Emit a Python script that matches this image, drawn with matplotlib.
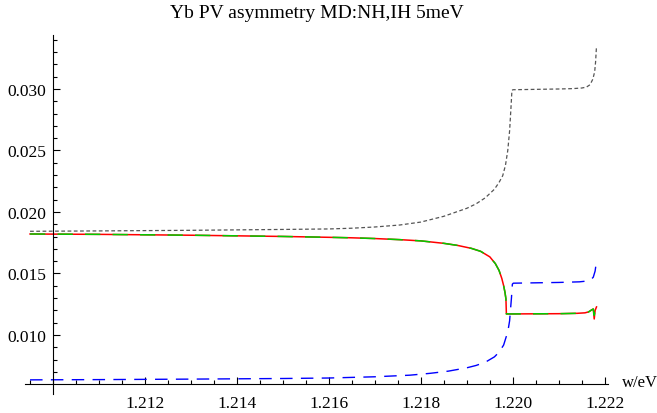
import matplotlib
matplotlib.use("Agg")
import matplotlib.pyplot as plt
import numpy as np

# ---- data ----
w_gray = [1.2095, 1.2110, 1.2130, 1.2150, 1.2160, 1.2165, 1.2170, 1.21754, 1.2180,
          1.2185, 1.2190, 1.2192, 1.2194, 1.2196, 1.2197, 1.21978, 1.21984, 1.21989,
          1.21993, 1.21996, 1.21998, 1.22000, 1.22050, 1.22100, 1.22130, 1.22150,
          1.22160, 1.22168, 1.22174, 1.22178, 1.22180, 1.22182]
a_gray = [0.01843, 0.01846, 0.01851, 0.01858, 0.01862, 0.01868, 0.01878, 0.01894, 0.01918,
          0.01965, 0.02030, 0.02066, 0.02115, 0.02185, 0.02240, 0.02295, 0.02380, 0.02500,
          0.02660, 0.02850, 0.02986, 0.02994, 0.02997, 0.03000, 0.03003, 0.03008,
          0.03015, 0.03035, 0.03080, 0.03140, 0.03220, 0.03350]

w_blue = [1.2095, 1.2110, 1.2130, 1.2150, 1.2160, 1.2170, 1.21776, 1.2182, 1.2186,
          1.2190, 1.2192, 1.2194, 1.2196, 1.2197, 1.2198, 1.21986, 1.21990, 1.21993,
          1.21995, 1.21997, 1.21999, 1.22001, 1.22050, 1.22100, 1.22145, 1.22160,
          1.22170, 1.22175, 1.22179, 1.22182]
a_blue = [0.00635, 0.00637, 0.00641, 0.00646, 0.00650, 0.00660, 0.00673, 0.00688, 0.00706,
          0.00733, 0.00752, 0.00778, 0.00822, 0.00860, 0.00918, 0.00990, 0.01047, 0.01115,
          0.01210, 0.01300, 0.01413, 0.01421, 0.01424, 0.01427, 0.01432, 0.01438,
          0.01450, 0.01470, 0.01520, 0.01602]

w_red = [1.2095, 1.2110, 1.2130, 1.2150, 1.2160, 1.2165, 1.2170, 1.21754, 1.2180,
         1.2185, 1.2188, 1.2191, 1.2193, 1.2195, 1.21962, 1.21970, 1.21976, 1.21980,
         1.21983, 1.21985, 1.21986, 1.22000, 1.22100, 1.22140, 1.22157, 1.22165,
         1.22172, 1.22175, 1.22177, 1.22179, 1.22182]
a_red = [0.01821, 0.01818, 0.01811, 0.01801, 0.01794, 0.01790, 0.01784, 0.01775, 0.01765,
         0.01745, 0.01728, 0.01704, 0.01680, 0.01635, 0.01580, 0.01525, 0.01460, 0.01401,
         0.01345, 0.01293, 0.01171, 0.01171, 0.01173, 0.01176, 0.01180, 0.01188,
         0.01205, 0.01211, 0.01130, 0.01200, 0.01228]

w_green = w_red
a_green = [0.01821, 0.01818, 0.01811, 0.01801, 0.01794, 0.01790, 0.01784, 0.01775, 0.01765,
           0.01745, 0.01728, 0.01704, 0.01680, 0.01635, 0.01580, 0.01525, 0.01460, 0.01401,
           0.01345, 0.01293, 0.01171, 0.01171, 0.01173, 0.01176, 0.01180, 0.01188,
           0.01205, 0.01211, 0.01160, 0.01200, 0.01228]

x_major = [1.212, 1.214, 1.216, 1.218, 1.220, 1.222]
y_major = [0.010, 0.015, 0.020, 0.025, 0.030]
title = "Yb PV asymmetry MD:NH,IH 5meV"
xlabel = "w/eV"

plt.rcParams['font.family'] = ['Liberation Serif', 'DejaVu Serif']

fig = plt.figure(figsize=(6.57, 4.14), dpi=100)
W, H = 657.0, 414.0
left_px, right_px, top_px, bot_px = 25, 608, 36, 395
ax = fig.add_axes([left_px / W, 1 - bot_px / H, (right_px - left_px) / W, (bot_px - top_px) / H])
ax.set_xlim(1.20939, 1.22207)
ax.set_ylim(0.00520, 0.03439)

ax.plot(w_gray, a_gray, color='#555555', lw=0.9, dashes=(3, 2))
ax.plot(w_blue, a_blue, color='#0000ff', lw=1.0, dashes=(9, 6))
ax.plot(w_red, a_red, color='#ff0000', lw=1.1)
ax.plot(w_green, a_green, color='#00cc00', lw=1.1, dashes=(10, 8))

for s in ['top', 'right']:
    ax.spines[s].set_visible(False)
ax.spines['left'].set_position(('data', 1.210))
ax.spines['bottom'].set_position(('data', 0.006))
for s in ['left', 'bottom']:
    ax.spines[s].set_linewidth(0.8)

ax.set_xticks(x_major)
ax.set_xticklabels([f"{v:.3f}" for v in x_major])
ax.set_xticks([v for v in np.arange(1.2095, 1.22226, 0.0005)
               if min(abs(v - m) for m in x_major) > 1e-6], minor=True)
ax.set_yticks(y_major)
ax.set_yticklabels([f"{v:.3f}" for v in y_major])
ax.set_yticks([v for v in np.arange(0.007, 0.03451, 0.001)
               if min(abs(v - m) for m in y_major) > 1e-6], minor=True)

ax.tick_params(which='both', direction='in', width=0.8, labelsize=12.5)
ax.tick_params(which='major', length=5)
ax.tick_params(which='minor', length=3)
ax.tick_params(axis='y', which='major', pad=5)
ax.tick_params(axis='x', which='major', pad=8)

fig.text(317 / W, 1 - 14 / H, title, ha='center', va='center', fontsize=14)
fig.text(622 / W, 1 - 383 / H, xlabel, ha='left', va='center', fontsize=12)

fig.savefig("out.png", dpi=100)
